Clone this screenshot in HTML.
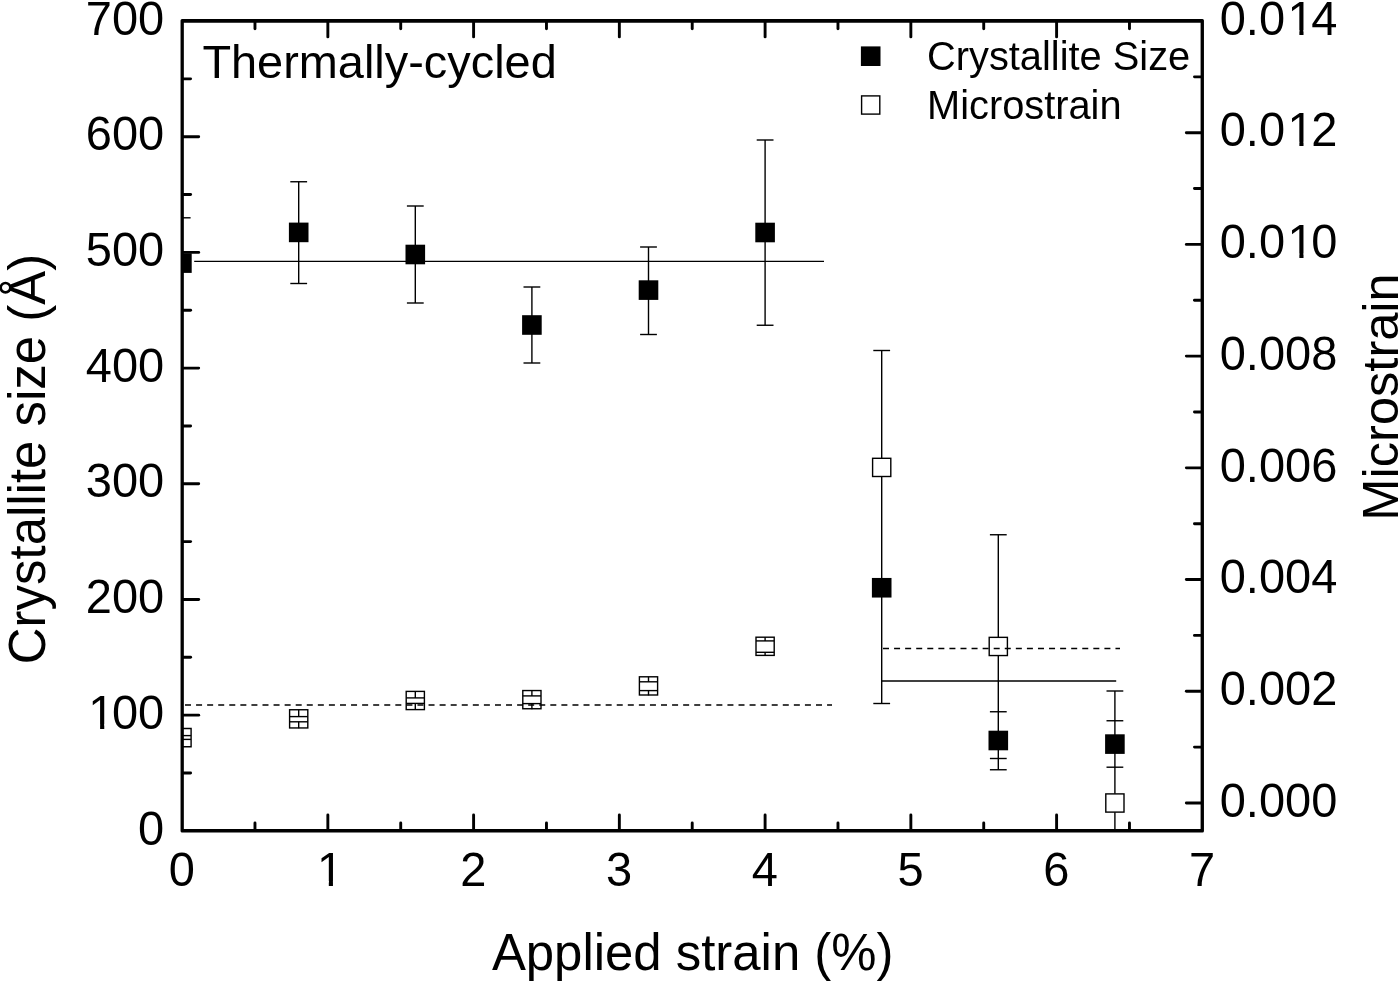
<!DOCTYPE html>
<html><head><meta charset="utf-8"><title>Thermally-cycled</title>
<style>html,body{margin:0;padding:0;background:#fff;}body{width:1400px;height:981px;overflow:hidden;}svg{display:block;filter:grayscale(1);}text{font-family:"Liberation Sans",sans-serif;fill:#000;}</style></head><body>
<svg width="1400" height="981" viewBox="0 0 1400 981">
<rect width="1400" height="981" fill="#fff"/>
<g stroke="#000" stroke-width="1.4" fill="none" stroke-linecap="butt">
<line x1="194.2" y1="261.4" x2="824" y2="261.4"/>
<line x1="881.7" y1="681" x2="1116.2" y2="681"/>
<line x1="185.0" y1="704.9" x2="832" y2="704.9" stroke-dasharray="6.0 5.07" stroke-width="1.5"/>
<line x1="883" y1="648.6" x2="1120" y2="648.6" stroke-dasharray="6.0 5.07" stroke-width="1.5"/>
</g>
<g stroke="#000" stroke-width="1.4" fill="none">
<line x1="298.70" y1="181.75" x2="298.70" y2="283.50"/>
<line x1="290.30" y1="181.75" x2="307.10" y2="181.75"/>
<line x1="290.30" y1="283.50" x2="307.10" y2="283.50"/>
<line x1="415.30" y1="206.00" x2="415.30" y2="303.00"/>
<line x1="406.90" y1="206.00" x2="423.70" y2="206.00"/>
<line x1="406.90" y1="303.00" x2="423.70" y2="303.00"/>
<line x1="531.90" y1="287.00" x2="531.90" y2="363.00"/>
<line x1="523.50" y1="287.00" x2="540.30" y2="287.00"/>
<line x1="523.50" y1="363.00" x2="540.30" y2="363.00"/>
<line x1="648.50" y1="247.00" x2="648.50" y2="334.50"/>
<line x1="640.10" y1="247.00" x2="656.90" y2="247.00"/>
<line x1="640.10" y1="334.50" x2="656.90" y2="334.50"/>
<line x1="765.10" y1="140.00" x2="765.10" y2="325.25"/>
<line x1="756.70" y1="140.00" x2="773.50" y2="140.00"/>
<line x1="756.70" y1="325.25" x2="773.50" y2="325.25"/>
<line x1="881.70" y1="350.50" x2="881.70" y2="458.40"/>
<line x1="881.70" y1="476.40" x2="881.70" y2="703.50"/>
<line x1="873.30" y1="350.50" x2="890.10" y2="350.50"/>
<line x1="873.30" y1="703.50" x2="890.10" y2="703.50"/>
<line x1="998.30" y1="534.75" x2="998.30" y2="637.40"/>
<line x1="998.30" y1="655.10" x2="998.30" y2="769.75"/>
<line x1="989.90" y1="534.75" x2="1006.70" y2="534.75"/>
<line x1="989.90" y1="711.75" x2="1006.70" y2="711.75"/>
<line x1="989.90" y1="758.50" x2="1006.70" y2="758.50"/>
<line x1="989.90" y1="769.75" x2="1006.70" y2="769.75"/>
<line x1="1114.90" y1="691.00" x2="1114.90" y2="793.80"/>
<line x1="1114.90" y1="812.30" x2="1114.90" y2="830.85"/>
<line x1="1106.50" y1="691.00" x2="1123.30" y2="691.00"/>
<line x1="1106.50" y1="720.75" x2="1123.30" y2="720.75"/>
<line x1="1106.50" y1="767.20" x2="1123.30" y2="767.20"/>
</g>
<g stroke="#000" stroke-width="1.4" fill="none">
<line x1="182.1" y1="217.8" x2="190.6" y2="217.8"/>
<path d="M182.1 728.50H191.10V746.70H182.1"/>
<line x1="182.1" y1="735.6" x2="191.10" y2="735.6"/>
<line x1="182.1" y1="739.4" x2="191.10" y2="739.4"/>
<rect x="289.60" y="709.75" width="18.20" height="18.20"/>
<line x1="289.60" y1="716.60" x2="307.80" y2="716.60"/>
<line x1="289.60" y1="721.80" x2="307.80" y2="721.80"/>
<line x1="298.70" y1="709.75" x2="298.70" y2="716.60"/>
<line x1="298.70" y1="721.80" x2="298.70" y2="728.35"/>
<rect x="406.20" y="691.40" width="18.20" height="18.20"/>
<line x1="406.20" y1="697.90" x2="424.40" y2="697.90"/>
<line x1="406.20" y1="703.40" x2="424.40" y2="703.40"/>
<line x1="415.30" y1="691.40" x2="415.30" y2="697.90"/>
<line x1="415.30" y1="703.40" x2="415.30" y2="710.00"/>
<rect x="522.80" y="690.55" width="18.20" height="18.20"/>
<line x1="522.80" y1="695.90" x2="541.00" y2="695.90"/>
<line x1="522.80" y1="703.60" x2="541.00" y2="703.60"/>
<line x1="531.90" y1="690.55" x2="531.90" y2="695.90"/>
<line x1="531.90" y1="703.60" x2="531.90" y2="709.15"/>
<rect x="639.40" y="676.80" width="18.20" height="18.20"/>
<line x1="639.40" y1="681.80" x2="657.60" y2="681.80"/>
<line x1="639.40" y1="690.60" x2="657.60" y2="690.60"/>
<line x1="648.50" y1="676.80" x2="648.50" y2="681.80"/>
<line x1="648.50" y1="690.60" x2="648.50" y2="695.40"/>
<rect x="756.00" y="637.20" width="18.20" height="18.20"/>
<line x1="756.00" y1="640.90" x2="774.20" y2="640.90"/>
<line x1="756.00" y1="652.30" x2="774.20" y2="652.30"/>
<line x1="765.10" y1="637.20" x2="765.10" y2="640.90"/>
<line x1="765.10" y1="652.30" x2="765.10" y2="655.80"/>
<rect x="872.60" y="458.30" width="18.20" height="18.20"/>
<rect x="989.20" y="637.35" width="18.20" height="18.20"/>
<rect x="1105.80" y="793.90" width="18.20" height="18.20"/>
<rect x="861.60" y="95.90" width="18.20" height="18.20"/>
</g>
<g fill="#000" stroke="none">
<rect x="182.1" y="253.3" width="9.6" height="19.6"/>
<rect x="288.90" y="222.60" width="19.6" height="19.6"/>
<rect x="405.50" y="244.70" width="19.6" height="19.6"/>
<rect x="522.10" y="315.20" width="19.6" height="19.6"/>
<rect x="638.70" y="280.30" width="19.6" height="19.6"/>
<rect x="755.30" y="222.70" width="19.6" height="19.6"/>
<rect x="871.90" y="577.95" width="19.6" height="19.6"/>
<rect x="988.50" y="730.70" width="19.6" height="19.6"/>
<rect x="1105.10" y="734.30" width="19.6" height="19.6"/>
<rect x="860.90" y="46.40" width="19.6" height="19.6"/>
</g>
<g stroke="#000" stroke-width="2.9" fill="none" stroke-linecap="round">
<line x1="254.97" y1="830.35" x2="254.97" y2="823.05"/>
<line x1="254.97" y1="21.5" x2="254.97" y2="28.80"/>
<line x1="327.85" y1="830.35" x2="327.85" y2="814.95"/>
<line x1="327.85" y1="21.5" x2="327.85" y2="36.90"/>
<line x1="400.72" y1="830.35" x2="400.72" y2="823.05"/>
<line x1="400.72" y1="21.5" x2="400.72" y2="28.80"/>
<line x1="473.60" y1="830.35" x2="473.60" y2="814.95"/>
<line x1="473.60" y1="21.5" x2="473.60" y2="36.90"/>
<line x1="546.47" y1="830.35" x2="546.47" y2="823.05"/>
<line x1="546.47" y1="21.5" x2="546.47" y2="28.80"/>
<line x1="619.35" y1="830.35" x2="619.35" y2="814.95"/>
<line x1="619.35" y1="21.5" x2="619.35" y2="36.90"/>
<line x1="692.22" y1="830.35" x2="692.22" y2="823.05"/>
<line x1="692.22" y1="21.5" x2="692.22" y2="28.80"/>
<line x1="765.10" y1="830.35" x2="765.10" y2="814.95"/>
<line x1="765.10" y1="21.5" x2="765.10" y2="36.90"/>
<line x1="837.97" y1="830.35" x2="837.97" y2="823.05"/>
<line x1="837.97" y1="21.5" x2="837.97" y2="28.80"/>
<line x1="910.85" y1="830.35" x2="910.85" y2="814.95"/>
<line x1="910.85" y1="21.5" x2="910.85" y2="36.90"/>
<line x1="983.72" y1="830.35" x2="983.72" y2="823.05"/>
<line x1="983.72" y1="21.5" x2="983.72" y2="28.80"/>
<line x1="1056.60" y1="830.35" x2="1056.60" y2="814.95"/>
<line x1="1056.60" y1="21.5" x2="1056.60" y2="36.90"/>
<line x1="1129.47" y1="830.35" x2="1129.47" y2="823.05"/>
<line x1="1129.47" y1="21.5" x2="1129.47" y2="28.80"/>
<line x1="183.1" y1="773.00" x2="190.60" y2="773.00"/>
<line x1="183.1" y1="715.16" x2="198.70" y2="715.16"/>
<line x1="183.1" y1="657.31" x2="190.60" y2="657.31"/>
<line x1="183.1" y1="599.46" x2="198.70" y2="599.46"/>
<line x1="183.1" y1="541.62" x2="190.60" y2="541.62"/>
<line x1="183.1" y1="483.77" x2="198.70" y2="483.77"/>
<line x1="183.1" y1="425.93" x2="190.60" y2="425.93"/>
<line x1="183.1" y1="368.08" x2="198.70" y2="368.08"/>
<line x1="183.1" y1="310.23" x2="190.60" y2="310.23"/>
<line x1="183.1" y1="252.39" x2="198.70" y2="252.39"/>
<line x1="183.1" y1="194.54" x2="190.60" y2="194.54"/>
<line x1="183.1" y1="136.69" x2="198.70" y2="136.69"/>
<line x1="183.1" y1="78.85" x2="190.60" y2="78.85"/>
<line x1="1201.35" y1="802.95" x2="1186.35" y2="802.95"/>
<line x1="1201.35" y1="747.10" x2="1194.45" y2="747.10"/>
<line x1="1201.35" y1="691.24" x2="1186.35" y2="691.24"/>
<line x1="1201.35" y1="635.39" x2="1194.45" y2="635.39"/>
<line x1="1201.35" y1="579.54" x2="1186.35" y2="579.54"/>
<line x1="1201.35" y1="523.68" x2="1194.45" y2="523.68"/>
<line x1="1201.35" y1="467.83" x2="1186.35" y2="467.83"/>
<line x1="1201.35" y1="411.98" x2="1194.45" y2="411.98"/>
<line x1="1201.35" y1="356.12" x2="1186.35" y2="356.12"/>
<line x1="1201.35" y1="300.27" x2="1194.45" y2="300.27"/>
<line x1="1201.35" y1="244.41" x2="1186.35" y2="244.41"/>
<line x1="1201.35" y1="188.56" x2="1194.45" y2="188.56"/>
<line x1="1201.35" y1="132.71" x2="1186.35" y2="132.71"/>
<line x1="1201.35" y1="76.85" x2="1194.45" y2="76.85"/>
</g>
<path fill="#000" fill-rule="evenodd" d="M182.05 19.1H1202.45A1.5 1.5 0 0 1 1203.95 20.6V831.1A1.5 1.5 0 0 1 1202.45 832.6H182.05A1.5 1.5 0 0 1 180.55 831.1V20.6A1.5 1.5 0 0 1 182.05 19.1ZM183.85 22.8V829.05H1200.6V22.8Z"/>
<g font-size="47.0px">
<text transform="translate(138.06 844.55) scale(1 1.034)">0</text>
<text transform="translate(85.78 728.86) scale(1 1.034)"><tspan dx="2.50">1</tspan><tspan dx="-2.50">0</tspan>0</text>
<text transform="translate(85.78 613.16) scale(1 1.034)">200</text>
<text transform="translate(85.78 497.47) scale(1 1.034)">300</text>
<text transform="translate(85.78 381.78) scale(1 1.034)">400</text>
<text transform="translate(85.78 266.09) scale(1 1.034)">500</text>
<text transform="translate(85.78 150.39) scale(1 1.034)">600</text>
<text transform="translate(85.78 34.70) scale(1 1.034)">700</text>
<text transform="translate(1219.70 816.65) scale(1 1.034)">0.000</text>
<text transform="translate(1219.70 704.94) scale(1 1.034)">0.002</text>
<text transform="translate(1219.70 593.24) scale(1 1.034)">0.004</text>
<text transform="translate(1219.70 481.53) scale(1 1.034)">0.006</text>
<text transform="translate(1219.70 369.82) scale(1 1.034)">0.008</text>
<text transform="translate(1219.70 258.11) scale(1 1.034)">0.0<tspan dx="2.50">1</tspan><tspan dx="-2.50">0</tspan></text>
<text transform="translate(1219.70 146.41) scale(1 1.034)">0.0<tspan dx="2.50">1</tspan><tspan dx="-2.50">2</tspan></text>
<text transform="translate(1219.70 34.70) scale(1 1.034)">0.0<tspan dx="2.50">1</tspan><tspan dx="-2.50">4</tspan></text>
<text transform="translate(168.73 885.60) scale(1 1.034)">0</text>
<text transform="translate(314.48 885.60) scale(1 1.034)"><tspan dx="2.50">1</tspan></text>
<text transform="translate(460.23 885.60) scale(1 1.034)">2</text>
<text transform="translate(605.98 885.60) scale(1 1.034)">3</text>
<text transform="translate(751.73 885.60) scale(1 1.034)">4</text>
<text transform="translate(897.48 885.60) scale(1 1.034)">5</text>
<text transform="translate(1043.23 885.60) scale(1 1.034)">6</text>
<text transform="translate(1188.98 885.60) scale(1 1.034)">7</text>
</g>
<g fill="#fff" stroke="none">
<rect x="90.86" y="724.26" width="9.24" height="5.6"/>
<rect x="104.26" y="724.26" width="8.87" height="5.6"/>
<rect x="1290.12" y="253.51" width="9.24" height="5.6"/>
<rect x="1303.51" y="253.51" width="8.87" height="5.6"/>
<rect x="1290.12" y="141.81" width="9.24" height="5.6"/>
<rect x="1303.51" y="141.81" width="8.87" height="5.6"/>
<rect x="1290.12" y="30.10" width="9.24" height="5.6"/>
<rect x="1303.51" y="30.10" width="8.87" height="5.6"/>
<rect x="319.56" y="881.00" width="9.24" height="5.6"/>
<rect x="332.95" y="881.00" width="8.87" height="5.6"/>
</g>
<text x="202.4" y="78.0" font-size="46.9px">Thermally-cycled</text>
<text x="927.0" y="69.8" font-size="39.8px">Crystallite Size</text>
<text x="927.0" y="118.8" font-size="39.8px">Microstrain</text>
<text x="692.7" y="969.8" font-size="50.9px" text-anchor="middle">Applied strain (%)</text>
<text transform="translate(45.4 459) rotate(-90)" font-size="50.95px" text-anchor="middle">Crystallite size (Å)</text>
<text transform="translate(1397.8 396.95) rotate(-90)" font-size="50.6px" text-anchor="middle">Microstrain</text>
</svg></body></html>
